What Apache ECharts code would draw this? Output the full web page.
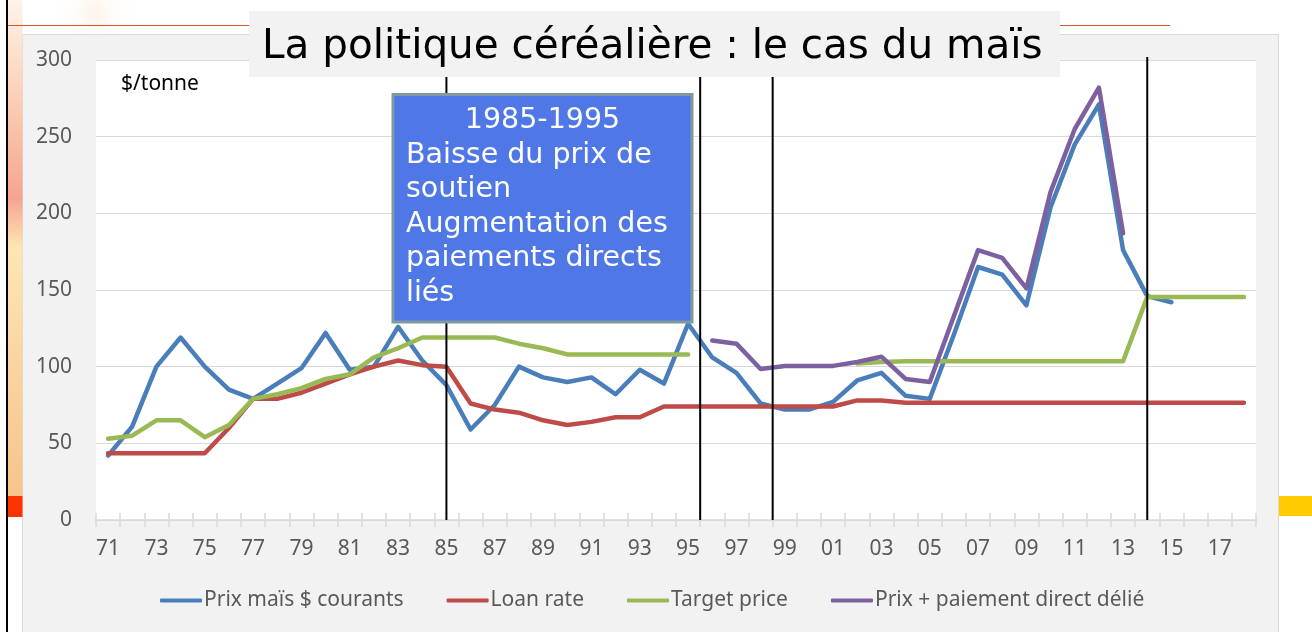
<!DOCTYPE html>
<html>
<head>
<meta charset="utf-8">
<script src="https://cdn.jsdelivr.net/npm/echarts@6/dist/echarts.min.js"></script>
<style>
  html, body { margin: 0; padding: 0; background: #fff; }
  #main { width: 1312px; height: 632px; }
</style>
</head>
<body>
<div id="main"></div>
<script>
const chart = echarts.init(document.querySelector('#main'));

// années (axe x)
const annees = ['71','72','73','74','75','76','77','78','79','80','81','82','83','84','85','86','87','88','89','90',
  '91','92','93','94','95','96','97','98','99','00','01','02','03','04','05','06','07','08','09','10',
  '11','12','13','14','15','16','17','18'];

// $/tonne
const prixMais = [42, 61, 100, 119, 100, 85, 79, 89, 99, 122, 98, 100, 126, 104, 88, 59, 75, 100, 93, 90,
  93, 82, 98, 89, 128, 106, 96, 76, 72, 72, 77, 91, 96, 81, 79, 121, 165, 160, 140, 204,
  245, 271, 176, 146, 142, null, null, null];
const loanRate = [43.5, 43.5, 43.5, 43.5, 43.5, 60, 79, 79, 83, 89, 95, 100, 104, 101, 100, 76, 72, 70, 65, 62,
  64, 67, 67, 74, 74, 74, 74, 74, 74, 74, 74, 78, 78, 76.5, 76.5, 76.5, 76.5, 76.5, 76.5, 76.5,
  76.5, 76.5, 76.5, 76.5, 76.5, 76.5, 76.5, 76.5];
const targetPrice = [53, 55, 65, 65, 54, 62, 79, 82, 86, 92, 95, 106, 112, 119, 119, 119, 119, 115, 112, 108,
  108, 108, 108, 108, 108, null, null, null, null, null, null, 102, 103, 103.5, 103.5, 103.5, 103.5, 103.5, 103.5, 103.5,
  103.5, 103.5, 103.5, 145.5, 145.5, 145.5, 145.5, 145.5];
const prixPaiement = [null, null, null, null, null, null, null, null, null, null, null, null, null, null, null, null, null, null, null, null,
  null, null, null, null, null, 117, 115, 98.5, 100.5, 100.5, 100.5, 103, 106.5, 92, 90, 133, 176, 171, 151, 214,
  255, 282, 187, null, null, null, null, null];

// lignes verticales : position sur l'axe (index de catégorie, .5 = entre deux années)
const separations = [14, 24.5, 27.5, 43];

const noms = ['Prix maïs $ courants', 'Loan rate', 'Target price', 'Prix + paiement direct délié'];
const couleurs = ['#4a7ebb', '#be4b48', '#98b954', '#7d60a0'];
const valeurs = [prixMais, loanRate, targetPrice, prixPaiement];

const police = '"Noto Sans", sans-serif';

const calloutLignes = ['Baisse du prix de', 'soutien', 'Augmentation des', 'paiements directs', 'liés'];

let option = {
    animation: false,
    grid: {
        left: 96, right: 56, top: 60, bottom: 112,
        show: true, backgroundColor: '#ffffff', borderWidth: 0
    },
    legend: {
        data: noms,
        left: 160, top: 590, padding: 0,
        icon: 'roundRect',
        itemWidth: 42, itemHeight: 4, itemGap: 43,
        textStyle: { color: '#595959', fontSize: 21, fontFamily: police, padding: [0, 0, 0, -3] }
    },
    xAxis: [
        {
            type: 'category', data: annees, boundaryGap: true,
            axisLine: { lineStyle: { color: '#d9d9d9', width: 1.5 } },
            axisTick: { show: true, interval: 0, length: 7, lineStyle: { color: '#d9d9d9', width: 1.5 } },
            axisLabel: { interval: 1, color: '#595959', fontSize: 21, fontFamily: police, margin: 19 }
        },
        {
            type: 'category', data: annees, boundaryGap: true, position: 'bottom',
            axisLine: { show: false },
            axisTick: { show: true, inside: true, interval: 0, length: 7, lineStyle: { color: '#d9d9d9', width: 1.5 } },
            axisLabel: { show: false }
        }
    ],
    yAxis: {
        type: 'value', min: 0, max: 300, interval: 50,
        axisLine: { show: false }, axisTick: { show: false },
        splitLine: { lineStyle: { color: '#d9d9d9', width: 1 } },
        axisLabel: { color: '#595959', fontSize: 21, fontFamily: police, margin: 24 }
    },
    series: noms.map((n, i) => ({
        name: n, type: 'line', data: valeurs[i],
        symbol: 'none', connectNulls: false,
        lineStyle: { color: couleurs[i], width: 4.5, cap: 'round', join: 'round' },
        itemStyle: { color: couleurs[i] }
    })),
    graphic: [
        // panneau gris du graphique
        { id: 'panel', type: 'rect', z: -10, shape: { x: 22.5, y: 34.5, width: 1256, height: 610 },
          style: { fill: '#f2f2f2', stroke: '#d9d9d9', lineWidth: 1 } },
        // décor de la diapositive
        { id: 'lueur', type: 'ellipse', z: -11, shape: { cx: 95, cy: 14, rx: 85, ry: 45 },
          style: { fill: new echarts.graphic.RadialGradient(0.5, 0.5, 0.5, [
              { offset: 0, color: 'rgba(250,210,170,0.25)' }, { offset: 1, color: 'rgba(255,255,255,0)' }]) } },
        { id: 'bande', type: 'rect', z: -9, shape: { x: 8, y: 0, width: 14.5, height: 496 },
          style: { fill: new echarts.graphic.LinearGradient(0, 0, 0, 1, [
              { offset: 0, color: '#fff3ea' }, { offset: 0.2, color: '#fbcfb5' }, { offset: 0.4, color: '#f6a492' },
              { offset: 0.5, color: '#fde6b4' }, { offset: 0.75, color: '#fad3a0' }, { offset: 1, color: '#f7c48c' }]) } },
        { id: 'noir', type: 'rect', z: -8, shape: { x: 6, y: 0, width: 2, height: 632 }, style: { fill: '#000' } },
        { id: 'rouge', type: 'rect', z: -8, shape: { x: 8, y: 496, width: 14.5, height: 21 }, style: { fill: '#ff3300' } },
        { id: 'jaune', type: 'rect', z: -8, shape: { x: 1279, y: 496, width: 33, height: 20 }, style: { fill: '#ffcc00' } },
        { id: 'trait1', type: 'line', z: -8, shape: { x1: 8, y1: 25.5, x2: 250, y2: 25.5 }, style: { stroke: '#d9541e', lineWidth: 1 } },
        { id: 'trait2', type: 'line', z: -8, shape: { x1: 1060, y1: 25.5, x2: 1170, y2: 25.5 }, style: { stroke: '#d9541e', lineWidth: 1 } },
        // unité
        { id: 'unite', type: 'text', z: 5, x: 121, y: 84,
          style: { text: '$/tonne', fill: '#000', font: '21px ' + police, verticalAlign: 'middle' } },
        // titre
        { id: 'titreFond', type: 'rect', z: 100, shape: { x: 249, y: 11, width: 811, height: 66 }, style: { fill: '#f2f2f2' } },
        { id: 'titre', type: 'text', z: 101, x: 262, y: 47,
          style: { text: 'La politique céréalière : le cas du maïs', fill: '#000', font: '40.5px "DejaVu Sans"', verticalAlign: 'middle' } },
        // encadré
        { id: 'boite', type: 'rect', z: 100, shape: { x: 393, y: 94.5, width: 299, height: 227.5 },
          style: { fill: '#4f77e6', stroke: '#7f9ba0', lineWidth: 3 } },
        { id: 'periode', type: 'text', z: 101, x: 542.5, y: 120.5,
          style: { text: '1985-1995', fill: '#fff', font: '28.5px "DejaVu Sans"', align: 'center', verticalAlign: 'middle' } }
    ].concat(calloutLignes.map((t, i) => ({
        id: 'cl' + i, type: 'text', z: 101, x: 406, y: 155.2 + i * 34.6,
        style: { text: t, fill: '#fff', font: '28.5px "DejaVu Sans"', verticalAlign: 'middle' }
    })))
};

chart.setOption(option);

// lignes verticales placées via l'échelle de l'axe
const posX = (v) => {
    const a = Math.floor(v), b = Math.ceil(v);
    const pa = chart.convertToPixel({ xAxisIndex: 0 }, annees[a]);
    const pb = chart.convertToPixel({ xAxisIndex: 0 }, annees[b]);
    return pa + (pb - pa) * (v - a);
};
const yBas = chart.convertToPixel({ yAxisIndex: 0 }, 0);
const yHaut = chart.convertToPixel({ yAxisIndex: 0 }, 300) - 3;

chart.setOption({
    graphic: separations.map((v, i) => ({
        id: 'sep' + i, type: 'line', z: 50,
        shape: { x1: posX(v), y1: yHaut, x2: posX(v), y2: yBas },
        style: { stroke: '#000', lineWidth: 2 }
    }))
});
</script>
</body>
</html>
